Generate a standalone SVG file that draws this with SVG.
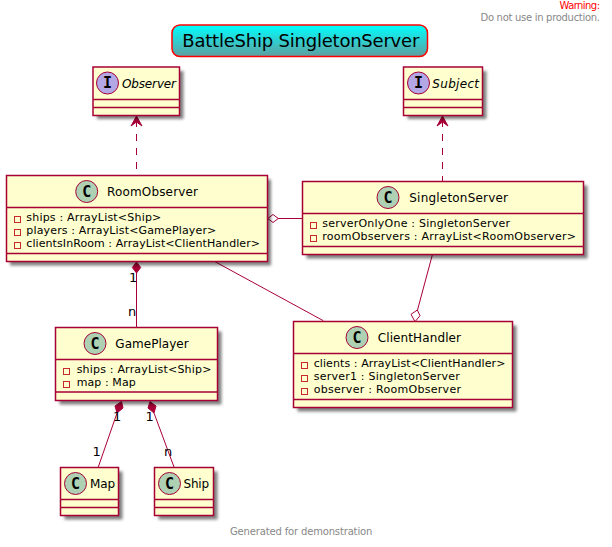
<svg xmlns="http://www.w3.org/2000/svg" width="612" height="547" viewBox="0 0 612 547">
<style>
text{font-family:"DejaVu Sans",sans-serif;font-size:11px;fill:#000}
.b{fill:#FEFECE;stroke:#A80036;stroke-width:1.5}
.l{stroke:#A80036;stroke-width:1.5;fill:none}
.c{stroke:#A80036;stroke-width:1;fill:none}
.v{stroke:#A80036;stroke-width:1;fill:#A80036}
.n{font-size:12px}
.i{font-size:12px;font-style:italic}
.m{font-size:13px}
.circ{fill:#ADD1B2;stroke:#A80036;stroke-width:1}
.circi{fill:#B4A7E5;stroke:#A80036;stroke-width:1}
.g{font-size:15px;font-weight:bold;font-family:"DejaVu Sans Mono",monospace;text-anchor:middle}
.sq{fill:none;stroke:#C82930;stroke-width:1}
.sh{fill:#000;opacity:.5;filter:url(#blur)}
.w{font-size:10px;fill:#888888}
</style>
<defs>
<filter id="blur" x="-20%" y="-20%" width="140%" height="140%"><feGaussianBlur stdDeviation="1.800"/></filter>
<linearGradient id="tg" x1="0" y1="0" x2="0" y2="1"><stop offset="0" stop-color="#00FFFF"/><stop offset="1" stop-color="#5F9EA0"/></linearGradient>
</defs>
<text x="559.500" y="9" textLength="40.500" style="font-size:10px;fill:#FF0000">Warning:</text>
<text x="480.500" y="21" textLength="119.500" class="w">Do not use in production.</text>
<g id="title"><rect x="172" y="25" width="255.500" height="31.500" rx="8" fill="url(#tg)" stroke="#FF0000" stroke-width="1.500"/><text x="182.300" y="47" textLength="237" style="font-size:18px">BattleShip SingletonServer</text></g>
<g id="connectors">
<path class="c" d="M136.500 120V175" stroke-dasharray="7,7"/>
<path class="v" d="M136.500 116L142 126L136.500 122L131 126Z"/>
<path class="c" d="M442.500 120V181" stroke-dasharray="7,7"/>
<path class="v" d="M442.500 116L448 126L442.500 122L437 126Z"/>
<path class="c" d="M278 218.500H302"/>
<path d="M267.800 218.500L273 214.500L278.300 218.500L273 222.500Z" fill="#fff" stroke="#A80036"/>
<path class="c" d="M136.500 272V327"/>
<path d="M136.500 262L140.700 267.500L136.500 273L132.300 267.500Z" fill="#A80036" stroke="#A80036"/>
<path class="c" d="M215 261.700L323.300 320.700"/>
<path class="c" d="M432.300 255L417.500 310"/>
<path d="M415 321.700L411 314.300L417.300 310L420 315.700Z" fill="#fff" stroke="#A80036"/>
<path class="c" d="M117 413L98.300 467"/>
<path d="M121.500 401.500L123 408L117 413L115 406Z" fill="#A80036" stroke="#A80036"/>
<path class="c" d="M154 413L174 467"/>
<path d="M150 401.500L156 406L154 413L148 408Z" fill="#A80036" stroke="#A80036"/>
</g>
<text x="129" y="282" class="m">1</text><text x="128" y="316" class="m">n</text>
<text x="113" y="421" class="m">1</text><text x="92.500" y="456" class="m">1</text>
<text x="145.500" y="421" class="m">1</text><text x="164" y="456" class="m">n</text>
<g id="Observer"><rect class="sh" x="97" y="71" width="86.500" height="48"/><rect class="b" x="93" y="67" width="86.500" height="48.500"/><path class="l" d="M93 99.500H179.500M93 107.500H179.500"/><circle class="circi" cx="107.500" cy="83" r="11"/><text class="g" x="107.500" y="88">I</text><text x="122" y="87.500" textLength="54" class="i">Observer</text></g>
<g id="Subject"><rect class="sh" x="407.500" y="71" width="79" height="48"/><rect class="b" x="403.500" y="67" width="79" height="48.500"/><path class="l" d="M403.500 99.500H482.500M403.500 107.500H482.500"/><circle class="circi" cx="418.500" cy="83" r="11"/><text class="g" x="418.500" y="88">I</text><text x="432.300" y="87.500" textLength="46.700" class="i">Subject</text></g>
<g id="RoomObserver"><rect class="sh" x="10" y="179.500" width="261" height="86"/><rect class="b" x="6.500" y="175.500" width="261" height="86"/><path class="l" d="M6.500 207.500H267.500M6.500 253.500H267.500"/><circle class="circ" cx="86.700" cy="191.500" r="11"/><text class="g" x="86.700" y="196.500">C</text><text x="107" y="195.500" textLength="91" class="n">RoomObserver</text>
<rect class="sq" x="14.500" y="216.500" width="6" height="6"/><rect class="sq" x="14.500" y="229.500" width="6" height="6"/><rect class="sq" x="14.500" y="242.500" width="6" height="6"/>
<text x="26.300" y="221" textLength="135">ships : ArrayList&lt;Ship&gt;</text><text x="26.300" y="234" textLength="190">players : ArrayList&lt;GamePlayer&gt;</text><text x="26.300" y="247" textLength="233.700">clientsInRoom : ArrayList&lt;ClientHandler&gt;</text></g>
<g id="SingletonServer"><rect class="sh" x="306.500" y="185.500" width="281" height="73"/><rect class="b" x="302.500" y="181.500" width="281" height="73"/><path class="l" d="M302.500 213.500H583.500M302.500 246.500H583.500"/><circle class="circ" cx="388" cy="197.500" r="11"/><text class="g" x="388" y="202.500">C</text><text x="409.300" y="201.500" textLength="98.700" class="n">SingletonServer</text>
<rect class="sq" x="310.500" y="222.500" width="6" height="6"/><rect class="sq" x="310.500" y="235.500" width="6" height="6"/>
<text x="322.300" y="227" textLength="187.700">serverOnlyOne : SingletonServer</text><text x="322.300" y="240" textLength="253.700">roomObservers : ArrayList&lt;RoomObserver&gt;</text></g>
<g id="ClientHandler"><rect class="sh" x="297.500" y="325.500" width="219" height="86"/><rect class="b" x="293.500" y="321.500" width="219" height="86"/><path class="l" d="M293.500 353.500H512.500M293.500 399.500H512.500"/><circle class="circ" cx="357" cy="337.500" r="11"/><text class="g" x="357" y="342.500">C</text><text x="377.700" y="341.500" textLength="83.300" class="n">ClientHandler</text>
<rect class="sq" x="301.500" y="362.500" width="6" height="6"/><rect class="sq" x="301.500" y="375.500" width="6" height="6"/><rect class="sq" x="301.500" y="388.500" width="6" height="6"/>
<text x="313.700" y="367" textLength="191.700">clients : ArrayList&lt;ClientHandler&gt;</text><text x="313.700" y="380" textLength="146">server1 : SingletonServer</text><text x="313.700" y="393" textLength="147.300">observer : RoomObserver</text></g>
<g id="GamePlayer"><rect class="sh" x="59.500" y="331.500" width="162" height="73"/><rect class="b" x="55.500" y="327.500" width="162" height="73"/><path class="l" d="M55.500 359.500H217.500M55.500 392H217.500"/><circle class="circ" cx="95" cy="343.500" r="11"/><text class="g" x="95" y="348.500">C</text><text x="115.300" y="347.500" textLength="73.400" class="n">GamePlayer</text>
<rect class="sq" x="63.500" y="368.500" width="6" height="6"/><rect class="sq" x="63.500" y="381.500" width="6" height="6"/>
<text x="76.700" y="373" textLength="134.700">ships : ArrayList&lt;Ship&gt;</text><text x="76.700" y="386" textLength="59">map : Map</text></g>
<g id="Map"><rect class="sh" x="64.500" y="471.500" width="58" height="48"/><rect class="b" x="60.500" y="467.500" width="58" height="48"/><path class="l" d="M60.500 499.500H118.500M60.500 507.500H118.500"/><circle class="circ" cx="75.500" cy="483.500" r="11"/><text class="g" x="75.500" y="488.500">C</text><text x="90" y="487.500" textLength="25" class="n">Map</text></g>
<g id="Ship"><rect class="sh" x="158.500" y="471.500" width="59" height="48"/><rect class="b" x="154.500" y="467.500" width="59" height="48"/><path class="l" d="M154.500 499.500H213.500M154.500 507.500H213.500"/><circle class="circ" cx="169.500" cy="483.500" r="11"/><text class="g" x="169.500" y="488.500">C</text><text x="183.500" y="487.500" textLength="25.500" class="n">Ship</text></g>
<text x="230" y="535" textLength="142.300" class="w">Generated for demonstration</text>
</svg>
